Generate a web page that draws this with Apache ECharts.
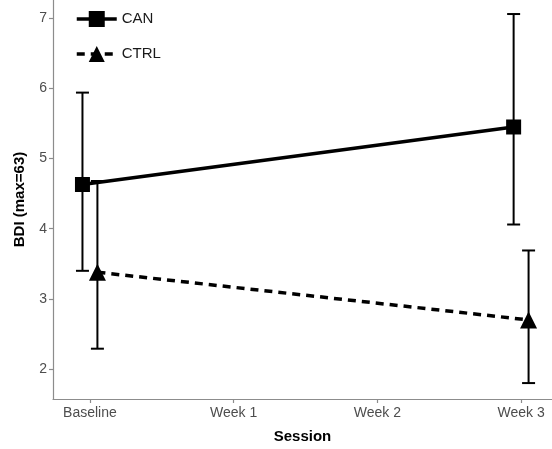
<!DOCTYPE html>
<html><head><meta charset="utf-8">
<script src="https://cdn.jsdelivr.net/npm/echarts@6/dist/echarts.min.js"></script>
<style>html,body{margin:0;padding:0;background:#fff}#c{width:552px;height:449px}</style>
</head><body><div id="c"></div>
<script>
const sessions = ['Baseline', 'Week 1', 'Week 2', 'Week 3'];
const sessionIdx = [0, 3];
const canMean = [4.63, 5.45];
const canLow = [3.40, 4.06];
const canHigh = [5.94, 7.06];
const ctrlMean = [3.38, 2.70];
const ctrlLow = [2.29, 1.80];
const ctrlHigh = [4.68, 3.69];
const yTicks = [2, 3, 4, 5, 6, 7];
const dodge = 0.052;

const font = '"Liberation Sans", Arial, sans-serif';
const canPts = sessionIdx.map((s, i) => [s - dodge, canMean[i]]);
const ctrlPts = sessionIdx.map((s, i) => [s + dodge, ctrlMean[i]]);
const canErr = sessionIdx.map((s, i) => [s - dodge, canLow[i], canHigh[i]]);
const ctrlErr = sessionIdx.map((s, i) => [s + dodge, ctrlLow[i], ctrlHigh[i]]);

function errRender(params, api) {
  const x = api.value(0);
  const lo = api.coord([x, api.value(1)]);
  const hi = api.coord([x, api.value(2)]);
  const hw = 6.5;
  const st = { stroke: '#000', lineWidth: 2, fill: null };
  return { type: 'group', children: [
    { type: 'line', shape: { x1: lo[0], y1: lo[1], x2: hi[0], y2: hi[1] }, style: st },
    { type: 'line', shape: { x1: lo[0] - hw, y1: lo[1], x2: lo[0] + hw, y2: lo[1] }, style: st },
    { type: 'line', shape: { x1: hi[0] - hw, y1: hi[1], x2: hi[0] + hw, y2: hi[1] }, style: st }
  ]};
}

const chart = echarts.init(document.getElementById('c'));
chart.setOption({
  animation: false,
  backgroundColor: '#fff',
  grid: { left: 53, right: 0, top: 0, bottom: 46, containLabel: false },
  legend: {
    orient: 'vertical', left: 75, top: 11, padding: 0, itemWidth: 40, itemHeight: 20, itemGap: 19,
    lineStyle: { width: 3.5 },
    textStyle: { fontFamily: font, fontSize: 15, color: '#1a1a1a' },
    data: ['CAN', 'CTRL']
  },
  xAxis: {
    type: 'value', min: -0.257, max: 3.215,
    splitLine: { show: false },
    axisLine: { show: true, onZero: false, lineStyle: { color: '#8c8c8c', width: 1.2 } },
    axisTick: { show: true, customValues: [0, 1, 2, 3], length: 4, lineStyle: { color: '#8c8c8c', width: 1.2 } },
    axisLabel: { customValues: [0, 1, 2, 3], formatter: v => sessions[Math.round(v)], fontFamily: font, fontSize: 14, color: '#4d4d4d', margin: 7 },
    name: 'Session', nameLocation: 'middle', nameGap: 30,
    nameTextStyle: { fontFamily: font, fontSize: 15, fontWeight: 'bold', color: '#000' }
  },
  yAxis: {
    type: 'value', min: 1.573, max: 7.26,
    splitLine: { show: false },
    axisLine: { show: true, onZero: false, lineStyle: { color: '#8c8c8c', width: 1.2 } },
    axisTick: { show: true, customValues: yTicks, length: 4, lineStyle: { color: '#8c8c8c', width: 1.2 } },
    axisLabel: { customValues: yTicks, fontFamily: font, fontSize: 14, color: '#4d4d4d', margin: 6 },
    name: 'BDI (max=63)', nameLocation: 'middle', nameGap: 26, nameRotate: 90,
    nameTextStyle: { fontFamily: font, fontSize: 15, fontWeight: 'bold', color: '#000' }
  },
  series: [
    { type: 'custom', renderItem: errRender, data: canErr, z: 1, silent: true },
    { type: 'custom', renderItem: errRender, data: ctrlErr, z: 1, silent: true },
    { name: 'CAN', type: 'line', data: canPts, symbol: 'rect', symbolSize: 15,
      lineStyle: { color: '#000', width: 3.5 }, itemStyle: { color: '#000' }, z: 3 },
    { name: 'CTRL', type: 'line', data: ctrlPts, symbol: 'triangle', symbolSize: 17,
      lineStyle: { color: '#000', width: 3.5, type: [8, 6] }, itemStyle: { color: '#000' }, z: 3 }
  ]
});
</script></body></html>
